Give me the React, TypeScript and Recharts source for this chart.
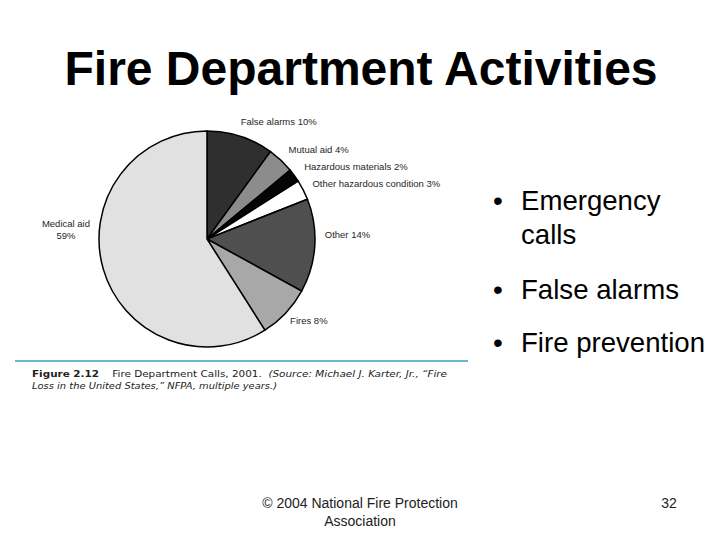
import { PieChart, Pie, Cell } from "recharts";

// Fire department calls, 2001 (percent of all calls), clockwise from the top
const categories = [
  "False alarms",
  "Mutual aid",
  "Hazardous materials",
  "Other hazardous condition",
  "Other",
  "Fires",
  "Medical aid",
];
const shares = [10, 4, 2, 3, 14, 8, 59];
const sliceColors = ["#2f2f2f", "#8c8c8c", "#050505", "#ffffff", "#4f4f4f", "#a8a8a8", "#e1e1e1"];

const bullets = [["Emergency", "calls"], ["False alarms"], ["Fire prevention"]];

const data = categories.map((name, i) => ({ name, value: shares[i] }));

const RADIAN = Math.PI / 180;
// small per-label shifts so the labels sit where the printed figure has them
const labelShift = [
  [-5, 1],
  [-4, 2],
  [-4, 1],
  [-6, 1],
  [-7, -12],
  [-8, -4],
  [-21, -44],
];

function SliceLabel(props: any) {
  const { cx, cy, midAngle, outerRadius, index, name, value } = props;
  const r = outerRadius + 17;
  const [dx, dy] = labelShift[index] || [0, 0];
  const x = cx + r * Math.cos(-midAngle * RADIAN) + dx;
  const y = cy + r * Math.sin(-midAngle * RADIAN) + dy;
  const style = { fontFamily: "'Liberation Sans', Arial, sans-serif", fontSize: 9.5, fill: "#262626" };
  if (name === "Medical aid") {
    return (
      <text x={x} y={y} textAnchor="middle" style={style}>
        <tspan x={x} dy={-3}>{name}</tspan>
        <tspan x={x} dy={12}>{`${value}%`}</tspan>
      </text>
    );
  }
  return (
    <text x={x} y={y} textAnchor="start" dominantBaseline="central" style={style}>
      {`${name} ${value}%`}
    </text>
  );
}

export default function App() {
  const sans = "'Liberation Sans', Arial, sans-serif";
  const capFont = "'DejaVu Sans', 'Open Sans', sans-serif";
  return (
    <div style={{ position: "absolute", left: 0, top: 0, width: 720, height: 540, background: "#fff", overflow: "hidden" }}>
      <div style={{ position: "absolute", left: 0, top: 0 }}>
        <PieChart width={720} height={540} margin={{ top: 0, right: 0, bottom: 0, left: 0 }}>
          <Pie
            data={data}
            dataKey="value"
            nameKey="name"
            cx={207}
            cy={239}
            outerRadius={108}
            startAngle={90}
            endAngle={-270}
            stroke="#000"
            strokeWidth={1.5}
            label={SliceLabel}
            labelLine={false}
            isAnimationActive={false}
          >
            {data.map((d, i) => (
              <Cell key={d.name} fill={sliceColors[i]} />
            ))}
          </Pie>
        </PieChart>
      </div>
      <svg width={720} height={540} style={{ position: "absolute", left: 0, top: 0, pointerEvents: "none" }}>
        <text x={361} y={85} textAnchor="middle" fontFamily={sans} fontWeight="bold" fontSize={48} fill="#000">
          Fire Department Activities
        </text>

        <line x1={15} y1={361} x2={468} y2={361} stroke="#3d9cc0" strokeWidth={1.5} />
        <text x={32} y={377} fontFamily={capFont} fontSize={9.5} fill="#222" style={{ whiteSpace: "pre" }} textLength={415} lengthAdjust="spacingAndGlyphs">
          <tspan fontWeight="bold">Figure 2.12</tspan>
          <tspan>{"    Fire Department Calls, 2001.  "}</tspan>
          <tspan fontStyle="italic">{"(Source: Michael J. Karter, Jr., \u201cFire"}</tspan>
        </text>
        <text x={32} y={389} fontFamily={capFont} fontSize={9.5} fontStyle="italic" fill="#222" textLength={245} lengthAdjust="spacingAndGlyphs">
          {"Loss in the United States,\u201d NFPA, multiple years.)"}
        </text>

        {bullets.map((lines, i) => {
          const baselines = [210, 299, 352];
          return (
            <g key={i}>
              <text x={493} y={baselines[i]} fontFamily={sans} fontSize={28} fill="#000">
                •
              </text>
              {lines.map((ln, j) => (
                <text key={j} x={521} y={baselines[i] + j * 34} fontFamily={sans} fontSize={27.6} fill="#000">
                  {ln}
                </text>
              ))}
            </g>
          );
        })}

        <text x={360} y={508} textAnchor="middle" fontFamily={sans} fontSize={14} fill="#222">
          © 2004 National Fire Protection
        </text>
        <text x={360} y={526} textAnchor="middle" fontFamily={sans} fontSize={14} fill="#222">
          Association
        </text>
        <text x={669} y={508} textAnchor="middle" fontFamily={sans} fontSize={14} fill="#222">
          32
        </text>
      </svg>
    </div>
  );
}
